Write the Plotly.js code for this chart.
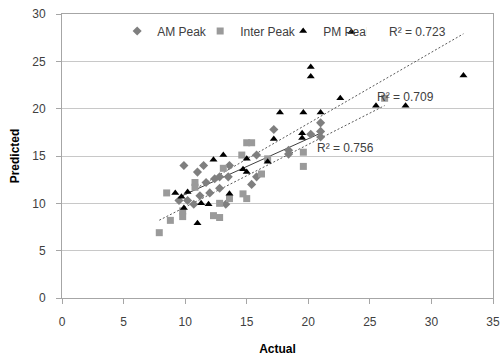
<!DOCTYPE html>
<html>
<head>
<meta charset="utf-8">
<script src="https://cdn.plot.ly/plotly-3.0.1.min.js"></script>
<style>html,body{margin:0;padding:0;background:#fff}#chart{width:503px;height:361px}</style>
</head>
<body>
<div id="chart"></div>
<script>
// AM Peak (diamonds)
var amActual = [9.5, 9.9, 10.2, 10.7, 11.0, 11.2, 11.5, 11.7, 12.0, 12.4, 12.8, 12.8, 13.3, 13.5, 13.6, 15.4, 15.8, 15.8, 17.2, 18.4, 18.4, 20.2, 21.0, 21.0, 21.0];
var amPredicted = [10.3, 14.0, 10.3, 9.9, 13.3, 10.8, 14.0, 12.2, 11.1, 12.6, 12.8, 11.6, 9.9, 12.8, 14.0, 12.0, 12.8, 15.1, 17.8, 15.6, 15.2, 17.3, 18.5, 17.6, 17.0];
// Inter Peak (squares)
var interActual = [7.9, 8.5, 8.8, 9.8, 9.8, 10.8, 10.8, 12.3, 12.8, 12.8, 13.1, 13.6, 14.6, 14.7, 15.0, 15.0, 15.4, 16.2, 16.7, 19.6, 19.6, 26.2];
var interPredicted = [6.9, 11.1, 8.2, 9.2, 8.6, 12.2, 11.7, 8.7, 8.5, 10.0, 13.7, 10.5, 15.1, 11.0, 10.5, 16.4, 16.4, 13.1, 14.7, 15.4, 13.9, 21.1];
// PM Peak (triangles)
var pmActual = [9.2, 9.7, 9.9, 10.2, 11.0, 11.3, 11.9, 12.3, 13.1, 13.6, 14.7, 15.0, 15.0, 16.7, 17.2, 17.7, 19.5, 19.5, 19.6, 20.2, 20.2, 21.0, 22.6, 23.5, 25.5, 27.9, 32.6];
var pmPredicted = [11.1, 10.7, 9.5, 11.2, 7.9, 10.0, 9.9, 14.6, 15.1, 11.0, 13.6, 14.7, 13.3, 14.4, 16.8, 19.6, 17.4, 16.9, 19.6, 24.4, 23.4, 19.6, 21.1, 28.1, 20.3, 20.3, 23.5];

var seriesNames = ["AM Peak", "Inter Peak", "PM Peak"];
var r2Labels = ["R\u00b2 = 0.756", "R\u00b2 = 0.709", "R\u00b2 = 0.723"];
var xTicks = [0, 5, 10, 15, 20, 25, 30, 35];
var yTicks = [0, 5, 10, 15, 20, 25, 30];

function fit(xs, ys) {
  var n = xs.length, mx = 0, my = 0;
  for (var i = 0; i < n; i++) { mx += xs[i]; my += ys[i]; }
  mx /= n; my /= n;
  var sxy = 0, sxx = 0;
  for (var j = 0; j < n; j++) { sxy += (xs[j]-mx)*(ys[j]-my); sxx += (xs[j]-mx)*(xs[j]-mx); }
  var b = sxy/sxx, a = my - b*mx;
  var x0 = Math.min.apply(null, xs), x1 = Math.max.apply(null, xs);
  return {x: [x0, x1], y: [a + b*x0, a + b*x1]};
}

var font = "Liberation Sans, Arial, sans-serif";
var amFit = fit(amActual, amPredicted), interFit = fit(interActual, interPredicted), pmFit = fit(pmActual, pmPredicted);

var traces = [
  {type:"scatter", mode:"lines", x:amFit.x, y:amFit.y, showlegend:false, hoverinfo:"skip",
   line:{color:"#404040", width:1}},
  {type:"scatter", mode:"lines", x:interFit.x, y:interFit.y, showlegend:false, hoverinfo:"skip",
   line:{color:"#595959", width:1, dash:"2px,2px"}},
  {type:"scatter", mode:"lines", x:pmFit.x, y:pmFit.y, showlegend:false, hoverinfo:"skip",
   line:{color:"#595959", width:1, dash:"2px,2px"}},
  {type:"scatter", mode:"markers", name:seriesNames[0], x:amActual, y:amPredicted,
   marker:{symbol:"diamond", size:7, color:"#7f7f7f"}},
  {type:"scatter", mode:"markers", name:seriesNames[1], x:interActual, y:interPredicted,
   marker:{symbol:"square", size:7, color:"#9a9a9a"}},
  {type:"scatter", mode:"markers", name:seriesNames[2], x:pmActual, y:pmPredicted,
   marker:{symbol:"triangle-up", size:7, color:"#000000"}}
];

var layout = {
  width:503, height:361,
  margin:{l:62, r:10, t:14, b:63},
  paper_bgcolor:"#fff", plot_bgcolor:"#fff",
  font:{family:font, size:12, color:"#404040"},
  showlegend:true,
  legend:{orientation:"h", x:0.128, xanchor:"left", y:0.94, yanchor:"middle",
    font:{family:font, size:12, color:"#404040"}, bgcolor:"rgba(0,0,0,0)", itemwidth:30,
    entrywidth:38, entrywidthmode:"pixels", tracegroupgap:0},
  xaxis:{range:[0,35], tickvals:xTicks, ticktext:xTicks.map(String), showgrid:false, zeroline:false,
    showline:true, linecolor:"#a6a6a6", linewidth:1, mirror:true,
    ticks:"outside", ticklen:5, tickcolor:"#a6a6a6", ticklabelstandoff:8,
    tickfont:{family:font, size:12, color:"#404040"},
    title:{text:"<b>Actual</b>", font:{family:font, size:12, color:"#000"}, standoff:16}},
  yaxis:{range:[0,30], tickvals:yTicks, ticktext:yTicks.map(String), showgrid:true, gridcolor:"#c8c8c8", gridwidth:1,
    zeroline:false, showline:true, linecolor:"#a6a6a6", linewidth:1, mirror:true,
    ticks:"outside", ticklen:5, tickcolor:"#a6a6a6", ticklabelstandoff:8,
    tickfont:{family:font, size:12, color:"#404040"},
    title:{text:"<b>Predicted</b>", font:{family:font, size:12, color:"#000"}, standoff:10}},
  annotations:[
    {x:23.0, y:15.8, xref:"x", yref:"y", text:r2Labels[0], showarrow:false, font:{family:font, size:12, color:"#404040"}},
    {x:27.9, y:21.2, xref:"x", yref:"y", text:r2Labels[1], showarrow:false, font:{family:font, size:12, color:"#404040"}},
    {x:28.85, y:28.1, xref:"x", yref:"y", text:r2Labels[2], showarrow:false, font:{family:font, size:12, color:"#404040"}}
  ]
};

Plotly.newPlot("chart", traces, layout, {displayModeBar:false, staticPlot:true});
</script>
</body>
</html>
